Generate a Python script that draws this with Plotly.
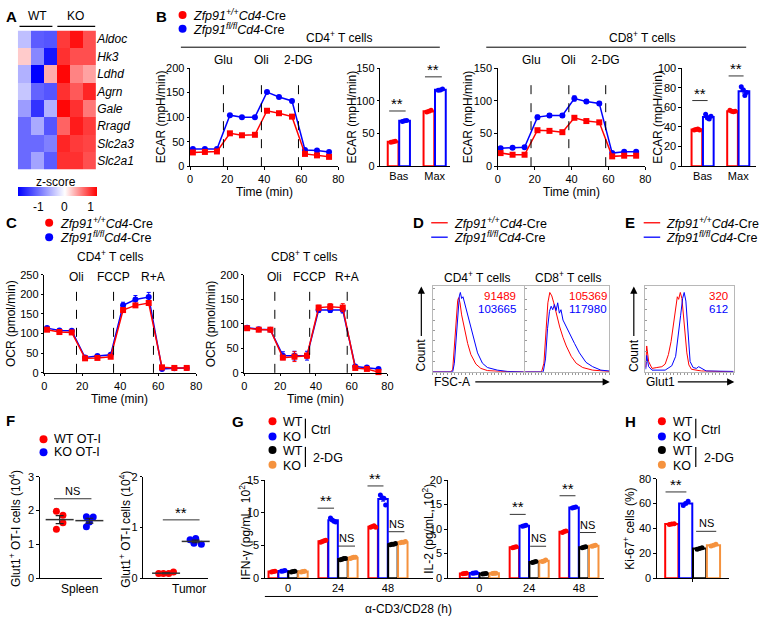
import numpy as np
import plotly.graph_objects as go

W, H = 767, 627
FONT = "Arial, 'Liberation Sans', 'DejaVu Sans', sans-serif"
FT = 11      # tick font
FA = 12      # axis title font
FL = 12.5    # legend font
RED, BLUE, BLACK, ORANGE = "#ff0000", "#0000ff", "#000000", "#f5923e"

# ======================= DATA =======================
# A: heatmap (z-scores)
genes = ["Aldoc", "Hk3", "Ldhd", "Agrn", "Gale", "Rragd", "Slc2a3", "Slc2a1"]
samples = ["WT1", "WT2", "WT3", "KO1", "KO2", "KO3"]
heat_z = [
    [-0.45, -1.15, -1.2, 0.95, 1.15, 0.85],
    [0.25, -0.85, -1.65, 1.0, 0.85, 0.85],
    [-0.55, -1.8, 0.4, 1.2, 0.6, 0.45],
    [-0.4, -1.1, -1.2, 1.0, 0.8, 1.05],
    [-0.7, -1.45, -0.55, 1.2, 1.0, 0.65],
    [-1.05, -0.6, -1.2, 0.75, 1.1, 0.95],
    [-1.05, -1.05, -0.9, 1.05, 0.95, 0.9],
    [-1.05, -0.65, -1.15, 1.0, 1.0, 0.85],
]

# B: ECAR time course
time_min = [1.5, 8, 14.5, 21.5, 28, 35, 41.5, 48, 55, 62, 68.5, 75]
ecar_inject = [18, 38.5, 58.5]
ecar_inject_lbl = ["Glu", "Oli", "2-DG"]
ecar_cd4_wt = [28, 29, 30, 67, 63, 64, 113, 108, 101, 25, 22, 19]
ecar_cd4_ko = [35, 35, 35, 104, 100, 100, 151, 141, 133, 33, 32, 29]
ecar_cd4_wt_err = [2, 2, 2, 3, 2, 2, 3, 2, 2, 2, 2, 2]
ecar_cd4_ko_err = [2, 2, 2, 2, 2, 2, 3, 2, 2, 2, 2, 2]
ecar_cd8_wt = [20, 17.5, 17.5, 55, 54, 52, 74, 69, 67, 15, 16, 16]
ecar_cd8_ko = [27.5, 28, 29, 75, 77.5, 77.5, 103.5, 99, 96, 20, 22, 22]
ecar_cd8_wt_err = [2, 1.5, 1.5, 2, 2, 1.5, 2, 2, 2, 1.5, 1.5, 1.5]
ecar_cd8_ko_err = [2, 2, 2, 3, 3, 3, 4, 3, 3, 2, 2, 2]
# B: ECAR bars (basal / max)
bar_cats = ["Bas", "Max"]
ecar_cd4_bar_wt = [[36.5, 37.5, 38.0], [83.0, 84.0, 85.5]]
ecar_cd4_bar_ko = [[68.5, 69.5, 70.0], [116.0, 116.5, 118.0]]
ecar_cd8_bar_wt = [[37.0, 37.5, 38.0, 37.0], [57.0, 56.0, 55.5, 56.0]]
ecar_cd8_bar_ko = [[53.0, 49.0, 48.0, 51.0], [81.0, 78.0, 72.0, 75.0]]

# C: OCR time course
ocr_inject = [17, 36.5, 57.5]
ocr_inject_lbl = ["Oli", "FCCP", "R+A"]
ocr_cd4_wt = [110, 104, 103, 37, 38, 41, 160, 172, 178, 14, 12.5, 12.5]
ocr_cd4_ko = [114, 108, 107.5, 39, 43, 46, 172, 187, 193, 10, 12, 12.5]
ocr_cd4_wt_err = [3, 3, 3, 3, 3, 3, 4, 4, 4, 2, 2, 2]
ocr_cd4_ko_err = [4, 3, 3, 3, 3, 3, 8, 10, 12, 3, 2, 2]
ocr_cd8_wt = [91, 88, 88, 31, 33, 35, 133, 135, 133, 10, 8, 1.5]
ocr_cd8_ko = [92, 89, 88, 35, 35, 35, 128, 128, 128, 13, 11, 8]
ocr_cd8_wt_err = [3, 3, 3, 4, 10, 5, 5, 6, 8, 2, 2, 2]
ocr_cd8_ko_err = [3, 3, 3, 8, 9, 9, 5, 5, 6, 2, 2, 2]

# D: FSC-A histograms (% of box height)
d_cd4_x_wt = [0, 20, 21.8, 23.6, 25.5, 27.3, 28.4, 29.8, 31.6, 34.5, 38.2, 41.8, 47.3, 52.7, 60, 74.5, 100]
d_cd4_y_wt = [0, 0, 3, 30, 62, 83, 86, 80, 66, 50, 33, 20, 9, 4, 1.5, 0.5, 0]
d_cd4_x_ko = [0, 21.8, 23.6, 25.5, 27.3, 29.1, 30.2, 31.6, 33.1, 35.3, 38.2, 41.8, 45.5, 49.1, 54.5, 60, 70.9, 81.8, 100]
d_cd4_y_ko = [0, 0, 10, 40, 72, 88, 92, 85, 87, 78, 66, 50, 36, 22, 10, 5, 2, 0.5, 0]
d_cd8_x_wt = [0, 19.6, 22.4, 24.7, 27.1, 29.4, 31.8, 34.1, 37.3, 41.2, 45.1, 49, 54.9, 60.8, 68.6, 80.4, 100]
d_cd8_y_wt = [0, 0, 10, 45, 80, 92, 88, 80, 66, 52, 40, 30, 18, 10, 5, 2, 0.5]
d_cd8_x_ko = [0, 21.6, 24.3, 26.7, 29, 31, 32.9, 34.9, 36.9, 38.8, 40.8, 42.7, 45.1, 49, 52.9, 58.8, 64.7, 72.5, 80.4, 90.2, 100]
d_cd8_y_ko = [0, 0, 15, 50, 70, 76, 72, 78, 71, 80, 68, 72, 60, 52, 44, 33, 22, 11, 6, 2, 1]
d_mfi_cd4 = ["91489", "103665"]
d_mfi_cd8 = ["105369", "117980"]

# E: Glut1 histograms
e_x_wt = [0.4, 1.5, 3.7, 7.5, 13, 18.7, 22.4, 26.1, 29.1, 32.1, 34.3, 36.2, 37.7, 39.6, 41.4, 43.3, 45.1, 47, 49.3, 52.2, 63.4, 100]
e_y_wt = [5, 30, 12, 4, 5, 6, 9, 20, 35, 58, 78, 87, 84, 92, 85, 65, 42, 22, 8, 3, 1, 0]
e_x_ko = [0.4, 1.5, 3.7, 7.5, 22.4, 29.9, 34.3, 37.3, 39.9, 42.2, 44, 45.9, 47.4, 48.9, 50.7, 54.1, 57.8, 60.4, 63.4, 69, 100]
e_y_ko = [3, 19, 6, 2, 2, 7, 18, 40, 65, 85, 92, 82, 58, 32, 12, 5, 4, 6, 4, 1, 0.5]
e_mfi = ["320", "612"]

# F: Glut1+ OT-I cells (10^4)
spleen_wt = [1.98, 1.86, 1.64, 1.45]
spleen_ko = [1.82, 1.81, 1.66, 1.52]
tumor_wt = [0.09, 0.09, 0.09, 0.12]
tumor_ko = [0.76, 0.78, 0.69, 0.67]

# G: cytokines, per time point (0, 24, 48 h)
g_times = ["0", "24", "48"]
ifng_wt_ctrl = [[0.95, 1.0, 1.05], [5.5, 5.6, 5.7, 5.8], [7.8, 7.9, 8.0, 7.8]]
ifng_ko_ctrl = [[1.05, 1.1, 1.15], [9.2, 8.9, 8.7, 8.6], [12.7, 12.3, 12.2, 11.2]]
ifng_wt_2dg = [[0.95, 1.0, 1.05], [2.8, 2.9, 3.0, 3.0], [5.1, 5.2, 5.2, 5.3]]
ifng_ko_2dg = [[0.95, 1.0, 1.05], [3.0, 3.1, 3.2, 3.2], [5.4, 5.5, 5.5, 5.6]]
il2_wt_ctrl = [[0.9, 0.95, 1.0], [6.2, 6.3, 6.4], [9.3, 9.5, 9.6]]
il2_ko_ctrl = [[1.0, 1.05, 1.1], [10.6, 10.7, 10.8], [14.3, 14.4, 14.5]]
il2_wt_2dg = [[0.85, 0.9, 0.95], [3.2, 3.3, 3.4], [6.2, 6.3, 6.4]]
il2_ko_2dg = [[0.95, 1.0, 1.0], [3.4, 3.5, 3.7], [6.5, 6.6, 6.7]]

# H: Ki-67+ cells (%)
ki67_wt_ctrl = [43.2, 43.5, 43.8]
ki67_ko_ctrl = [58.5, 60.0, 62.0]
ki67_wt_2dg = [23.2, 23.8, 24.5]
ki67_ko_2dg = [25.8, 26.5, 27.3]

# ======================= HELPERS =======================
fig = go.Figure()
LAY, ANN, SHP = {}, [], []
cnt = [0]


def fx(px):
    return px / W


def fy(py):
    return 1 - py / H


def base_axis():
    return dict(showgrid=False, zeroline=False, showline=True, linecolor="black", linewidth=1,
                ticks="outside", ticklen=2.5, tickwidth=1, tickcolor="black",
                tickfont=dict(size=FT, color="black", family=FONT), fixedrange=True)


def axes(x0, x1, ytop, ybot, xr, yr, xkw=None, ykw=None):
    cnt[0] += 1
    s = "" if cnt[0] == 1 else str(cnt[0])
    xa = base_axis()
    xa.update(domain=[fx(x0), fx(x1)], range=xr, anchor="y" + s)
    ya = base_axis()
    ya.update(domain=[fy(ybot), fy(ytop)], range=yr, anchor="x" + s)
    xa.update(xkw or {})
    ya.update(ykw or {})
    LAY["xaxis" + s] = xa
    LAY["yaxis" + s] = ya
    return "x" + s, "y" + s


def txt(px, py, s, size=FA, xa="center", ya="middle", ang=0, color="black"):
    ANN.append(dict(x=fx(px), y=fy(py), xref="paper", yref="paper", text=s, showarrow=False,
                    xanchor=xa, yanchor=ya, textangle=ang,
                    font=dict(size=size, color=color, family=FONT)))


def hline(px0, px1, py, color="black", w=1):
    SHP.append(dict(type="line", xref="paper", yref="paper", x0=fx(px0), x1=fx(px1),
                    y0=fy(py), y1=fy(py), line=dict(color=color, width=w)))


def vline_paper(px, py0, py1, color="black", w=1.2):
    SHP.append(dict(type="line", xref="paper", yref="paper", x0=fx(px), x1=fx(px),
                    y0=fy(py0), y1=fy(py1), line=dict(color=color, width=w)))


def dot(px, py, color, r=4):
    SHP.append(dict(type="circle", xref="paper", yref="paper", xsizemode="pixel", ysizemode="pixel",
                    xanchor=fx(px), yanchor=fy(py), x0=-r, x1=r, y0=-r, y1=r,
                    fillcolor=color, line=dict(width=0)))


def letter(px, py, s):
    txt(px, py, "<b>%s</b>" % s, size=15, xa="left")


def sig(xa, ya, x0, x1, y, label):
    SHP.append(dict(type="line", xref=xa, yref=ya, x0=x0, x1=x1, y0=y, y1=y,
                    line=dict(color="#333333", width=1)))
    size = 15 if label == "**" else FT
    ANN.append(dict(x=(x0 + x1) / 2, y=y, xref=xa, yref=ya, text=label, showarrow=False,
                    xanchor="center", yanchor="bottom", yshift=(-3 if label == "**" else 0),
                    font=dict(size=size, color="black", family=FONT)))


def inject_lines(xa, times, labels, py_top, py_bot, py_lbl):
    for t, lb in zip(times, labels):
        SHP.append(dict(type="line", xref=xa, yref="paper", x0=t, x1=t, y0=fy(py_bot), y1=fy(py_top),
                        line=dict(color="black", width=1, dash="dash")))
        ANN.append(dict(x=t, y=fy(py_lbl), xref=xa, yref="paper", text=lb, showarrow=False,
                        xanchor="center", yanchor="middle", font=dict(size=FA, color="black", family=FONT)))


def time_series(xa, ya, y, err, color, symbol):
    fig.add_trace(go.Scatter(x=time_min, y=y, xaxis=xa, yaxis=ya, mode="lines+markers",
                             line=dict(color=color, width=1.5),
                             marker=dict(color=color, size=6, symbol=symbol),
                             error_y=dict(type="data", array=err, color=color, thickness=1, width=2),
                             cliponaxis=False, showlegend=False))


def bars(xa, ya, center_list, reps, color, off, width, dot_sp):
    means = [float(np.mean(r)) for r in reps]
    sems = [float(np.std(r, ddof=1) / np.sqrt(len(r))) for r in reps]
    xs = [c + off for c in center_list]
    fig.add_trace(go.Bar(x=xs, y=means, width=width, xaxis=xa, yaxis=ya,
                         marker=dict(color="white", line=dict(color=color, width=2)),
                         error_y=dict(type="data", array=sems, color=color, thickness=1, width=2),
                         showlegend=False))
    dx, dy = [], []
    for x, r in zip(xs, reps):
        n = len(r)
        for k, v in enumerate(r):
            dx.append(x + (k - (n - 1) / 2) * dot_sp)
            dy.append(v)
    fig.add_trace(go.Scatter(x=dx, y=dy, xaxis=xa, yaxis=ya, mode="markers",
                             marker=dict(color=color, size=5), cliponaxis=False, showlegend=False))


# ======================= PANEL A =======================
letter(1, 11, "A")
txt(35, 10, "WT")
txt(73, 10, "KO")
hline(16.7, 50, 20.7, w=1.3)
hline(55, 93.3, 20.7, w=1.3)
xh, yh = axes(15, 94.3, 25, 166.7, [-0.5, 5.5], [7.5, -0.5],
              xkw=dict(visible=False),
              ykw=dict(showline=False, ticks="", side="right", tickvals=list(range(len(genes))),
                       ticktext=["<i>%s</i>" % g for g in genes], tickfont=dict(size=FA, family=FONT, color="black")))
fig.add_trace(go.Heatmap(z=heat_z, x=list(range(len(samples))), y=list(range(len(genes))),
                         xaxis=xh, yaxis=yh, zmin=-1.8, zmax=1.23,
                         colorscale=[[0, "#0000ff"], [0.594, "#ffffff"], [1, "#ff0000"]],
                         colorbar=dict(orientation="h", x=fx(54.65), xanchor="center", y=fy(184.5), yanchor="top",
                                       len=79.3, lenmode="pixels", thickness=8.5, thicknessmode="pixels",
                                       outlinewidth=0, xpad=0, ypad=0, tickvals=[-1, 0, 1], ticktext=["-1", "0", "1"],
                                       ticks="", tickfont=dict(size=FA, family=FONT, color="black")),
                         hoverinfo="skip"))
txt(53.3, 179.5, "z-score")

# ======================= PANEL B =======================
letter(153, 11, "B")
dot(181.7, 9.3, RED)
txt(190.5, 9.3, "<i>Zfp91<sup>+/+</sup>Cd4</i>-Cre", size=FL, xa="left")
dot(181.7, 23.3, BLUE)
txt(190.5, 23.3, "<i>Zfp91<sup>fl/fl</sup>Cd4</i>-Cre", size=FL, xa="left")

txt(340, 32, "CD4<sup>+</sup> T cells")
hline(180, 442, 42)
txt(646.7, 32, "CD8<sup>+</sup> T cells")
hline(489, 752, 42)

# CD4 ECAR time
xa, ya = axes(189.3, 339.3, 63.3, 163.3, [0, 80], [0, 200], xkw=dict(dtick=20), ykw=dict(dtick=50))
inject_lines(xa, ecar_inject, ecar_inject_lbl, 77, 163.3, 55)
time_series(xa, ya, ecar_cd4_ko, ecar_cd4_ko_err, BLUE, "circle")
time_series(xa, ya, ecar_cd4_wt, ecar_cd4_wt_err, RED, "square")
txt(159.3, 113, "ECAR (mpH/min)", ang=-90)
txt(264.3, 190, "Time (min)")

# CD4 ECAR bars
xa, ya = axes(381.7, 452, 63.3, 163.3, [-0.52, 1.42], [0, 150],
              xkw=dict(tickvals=[0, 1], ticktext=bar_cats, ticks=""), ykw=dict(dtick=50))
bars(xa, ya, [0, 1], ecar_cd4_bar_wt, RED, -0.16, 0.3, 0.06)
bars(xa, ya, [0, 1], ecar_cd4_bar_ko, BLUE, 0.16, 0.3, 0.06)
sig(xa, ya, -0.27, 0.19, 84.4, "**")
sig(xa, ya, 0.73, 1.2, 136.6, "**")
txt(352.7, 113, "ECAR (mpH/min)", ang=-90)

# CD8 ECAR time
xa, ya = axes(500.7, 650, 63.3, 163.3, [0, 80], [0, 150], xkw=dict(dtick=20), ykw=dict(dtick=50))
inject_lines(xa, ecar_inject, ecar_inject_lbl, 77, 163.3, 55)
time_series(xa, ya, ecar_cd8_ko, ecar_cd8_ko_err, BLUE, "circle")
time_series(xa, ya, ecar_cd8_wt, ecar_cd8_wt_err, RED, "square")
txt(470, 113, "ECAR (mpH/min)", ang=-90)
txt(575.3, 190, "Time (min)")

# CD8 ECAR bars
xa, ya = axes(687, 762, 63.3, 163.3, [-0.58, 1.5], [0, 100],
              xkw=dict(tickvals=[0, 1], ticktext=bar_cats, ticks=""), ykw=dict(dtick=20))
bars(xa, ya, [0, 1], ecar_cd8_bar_wt, RED, -0.16, 0.3, 0.05)
bars(xa, ya, [0, 1], ecar_cd8_bar_ko, BLUE, 0.16, 0.3, 0.05)
sig(xa, ya, -0.29, 0.14, 66.9, "**")
sig(xa, ya, 0.73, 1.15, 92, "**")
txt(662.7, 113, "ECAR (mpH/min)", ang=-90)

# ======================= PANEL C =======================
letter(1, 221, "C")
dot(46.7, 221, RED)
txt(55.5, 221, "<i>Zfp91<sup>+/+</sup>Cd4</i>-Cre", size=FL, xa="left")
dot(46.7, 235.7, BLUE)
txt(55.5, 235.7, "<i>Zfp91<sup>fl/fl</sup>Cd4</i>-Cre", size=FL, xa="left")

xa, ya = axes(41.7, 195.5, 274, 374, [0, 80], [0, 250], xkw=dict(dtick=20), ykw=dict(dtick=50))
inject_lines(xa, ocr_inject, ocr_inject_lbl, 287, 374, 276)
time_series(xa, ya, ocr_cd4_ko, ocr_cd4_ko_err, BLUE, "circle")
time_series(xa, ya, ocr_cd4_wt, ocr_cd4_wt_err, RED, "square")
txt(109, 255, "CD4<sup>+</sup> T cells")
txt(8.3, 324, "OCR (pmol/min)", ang=-90)
txt(118.3, 401, "Time (min)")

xa, ya = axes(244.3, 389, 274, 374, [0, 80], [0, 200], xkw=dict(dtick=20), ykw=dict(dtick=50))
inject_lines(xa, ocr_inject, ocr_inject_lbl, 287, 374, 276)
time_series(xa, ya, ocr_cd8_ko, ocr_cd8_ko_err, BLUE, "circle")
time_series(xa, ya, ocr_cd8_wt, ocr_cd8_wt_err, RED, "square")
txt(305, 255, "CD8<sup>+</sup> T cells")
txt(210, 324, "OCR (pmol/min)", ang=-90)
txt(316.7, 401, "Time (min)")


# ======================= PANEL D / E =======================
def hist_axes(x0, x1):
    return axes(x0, x1, 285, 373, [0, 100], [0, 100],
                xkw=dict(mirror=True, linecolor="#b8b8b8", ticks="outside", ticklen=2.5, tickcolor="#999999",
                         dtick=4, showticklabels=False),
                ykw=dict(mirror=True, linecolor="#b8b8b8", ticks="inside", ticklen=2, tickcolor="#999999",
                         dtick=12, showticklabels=False))


def hist_line(xa, ya, x, y, color):
    fig.add_trace(go.Scatter(x=x, y=y, xaxis=xa, yaxis=ya, mode="lines",
                             line=dict(color=color, width=1), showlegend=False))


letter(413, 221, "D")
hline(433.3, 450, 221, RED, 1.3)
txt(454, 221, "<i>Zfp91<sup>+/+</sup>Cd4</i>-Cre", size=FL, xa="left")
hline(433.3, 450, 235.7, BLUE, 1.3)
txt(454, 235.7, "<i>Zfp91<sup>fl/fl</sup>Cd4</i>-Cre", size=FL, xa="left")

xa, ya = hist_axes(435, 527)
hist_line(xa, ya, d_cd4_x_wt, d_cd4_y_wt, RED)
hist_line(xa, ya, d_cd4_x_ko, d_cd4_y_ko, BLUE)
txt(480, 276, "CD4<sup>+</sup> T cells")
txt(521, 296, d_mfi_cd4[0], size=11.5, xa="right", color=RED)
txt(521, 309.3, d_mfi_cd4[1], size=11.5, xa="right", color=BLUE)

xa, ya = hist_axes(528.3, 613.3)
hist_line(xa, ya, d_cd8_x_wt, d_cd8_y_wt, RED)
hist_line(xa, ya, d_cd8_x_ko, d_cd8_y_ko, BLUE)
txt(572, 276, "CD8<sup>+</sup> T cells")
txt(613, 296, d_mfi_cd8[0], size=11.5, xa="right", color=RED)
txt(613, 309.3, d_mfi_cd8[1], size=11.5, xa="right", color=BLUE)

# arrows D
ANN.append(dict(x=fx(423.3), y=fy(286), xref="paper", yref="paper", text="", showarrow=True,
                ax=0, ay=51, arrowhead=2, arrowsize=1.2, arrowwidth=1.2, arrowcolor="black"))
txt(423.3, 356, "Count", ang=-90)
txt(454.5, 383.3, "FSC-A")
ANN.append(dict(x=fx(614), y=fy(383.3), xref="paper", yref="paper", text="", showarrow=True,
                ax=-136, ay=0, arrowhead=2, arrowsize=1.2, arrowwidth=1.2, arrowcolor="black"))

letter(627, 221, "E")
hline(648.3, 665, 221, RED, 1.3)
txt(669, 221, "<i>Zfp91<sup>+/+</sup>Cd4</i>-Cre", size=FL, xa="left")
hline(648.3, 665, 235.7, BLUE, 1.3)
txt(669, 235.7, "<i>Zfp91<sup>fl/fl</sup>Cd4</i>-Cre", size=FL, xa="left")

xa, ya = hist_axes(650, 739.3)
hist_line(xa, ya, e_x_wt, e_y_wt, RED)
hist_line(xa, ya, e_x_ko, e_y_ko, BLUE)
txt(736, 296, e_mfi[0], size=11.5, xa="right", color=RED)
txt(736, 309.3, e_mfi[1], size=11.5, xa="right", color=BLUE)
ANN.append(dict(x=fx(638.3), y=fy(286), xref="paper", yref="paper", text="", showarrow=True,
                ax=0, ay=51, arrowhead=2, arrowsize=1.2, arrowwidth=1.2, arrowcolor="black"))
txt(638.3, 356, "Count", ang=-90)
txt(665, 383.3, "Glut1")
ANN.append(dict(x=fx(740), y=fy(383.3), xref="paper", yref="paper", text="", showarrow=True,
                ax=-58, ay=0, arrowhead=2, arrowsize=1.2, arrowwidth=1.2, arrowcolor="black"))

# ======================= PANEL F =======================
letter(1, 423, "F")
dot(41, 441.7, RED)
txt(49.5, 441.7, "WT OT-I", size=FL, xa="left")
dot(41, 455, BLUE)
txt(49.5, 455, "KO OT-I", size=FL, xa="left")


def scatter_group(xa, ya, xc, vals, offs, color):
    fig.add_trace(go.Scatter(x=[xc + o for o in offs], y=vals, xaxis=xa, yaxis=ya, mode="markers",
                             marker=dict(color=color, size=7), cliponaxis=False, showlegend=False))
    m = float(np.mean(vals))
    se = float(np.std(vals, ddof=1) / np.sqrt(len(vals)))
    fig.add_trace(go.Scatter(x=[xc], y=[m], xaxis=xa, yaxis=ya, mode="markers",
                             marker=dict(symbol="line-ew-open", size=20, color="#333333",
                                         line=dict(width=1.5, color="#333333")),
                             error_y=dict(type="data", array=[se], color="#222222", thickness=1.2, width=4),
                             cliponaxis=False, showlegend=False))


xa, ya = axes(37.3, 100, 480, 583.3, [-0.667, 1.42], [0, 3],
              xkw=dict(ticks="", showticklabels=False), ykw=dict(dtick=1))
scatter_group(xa, ya, 0, spleen_wt, [-0.11, 0.11, 0.11, -0.11], RED)
scatter_group(xa, ya, 1, spleen_ko, [-0.1, 0.13, 0.0, -0.1], BLUE)
sig(xa, ya, -0.19, 1.07, 2.35, "NS")
txt(77.7, 594.3, "Spleen")
txt(12.3, 533, "Glut1<sup>+</sup> OT-I cells (10<sup>4</sup>)", ang=-90)

xa, ya = axes(142, 207, 480, 583.3, [-0.767, 1.4], [0, 2],
              xkw=dict(ticks="", showticklabels=False), ykw=dict(dtick=1))
scatter_group(xa, ya, 0, tumor_wt, [-0.25, -0.09, 0.09, 0.25], RED)
scatter_group(xa, ya, 1, tumor_ko, [-0.19, 0.0, -0.06, 0.19], BLUE)
sig(xa, ya, -0.11, 1.13, 1.15, "**")
txt(188, 594.3, "Tumor")
txt(123.3, 533, "Glut1<sup>+</sup> OT-I cells (10<sup>4</sup>)", ang=-90)


# ======================= PANEL G =======================
def group_legend(x_dot, x_bar):
    dot(x_dot, 423.3, RED)
    txt(x_dot + 9, 424.5, "WT", size=FL, xa="left")
    dot(x_dot, 439, BLUE)
    txt(x_dot + 9, 439.5, "KO", size=FL, xa="left")
    vline_paper(x_bar, 420.7, 440.7)
    txt(x_bar + 3.5, 432.3, "Ctrl", size=FL, xa="left")
    dot(x_dot, 452.7, BLACK)
    txt(x_dot + 9, 453.5, "WT", size=FL, xa="left")
    dot(x_dot, 467.7, ORANGE)
    txt(x_dot + 9, 468.5, "KO", size=FL, xa="left")
    vline_paper(x_bar, 449.5, 470)
    txt(x_bar + 6, 460.5, "2-DG", size=FL, xa="left")


letter(230, 424, "G")
group_legend(272.7, 306)

BW, BO = 0.19, 0.198
g_colors = [RED, BLUE, BLACK, ORANGE]

xa, ya = axes(265, 435, 483.3, 583.3, [-0.465, 2.9], [0, 15],
              xkw=dict(tickvals=[0, 1, 2], ticktext=g_times, ticks=""), ykw=dict(dtick=5))
for i, (reps, c) in enumerate(zip([ifng_wt_ctrl, ifng_ko_ctrl, ifng_wt_2dg, ifng_ko_2dg], g_colors)):
    bars(xa, ya, [0, 1, 2], reps, c, (i - 1.5) * BO, BW, 0.035)
sig(xa, ya, 1 - 0.41, 1 - 0.08, 10.7, "**")
sig(xa, ya, 1 + 0.0, 1 + 0.34, 4.9, "NS")
sig(xa, ya, 2 - 0.41, 2 - 0.09, 14.1, "**")
sig(xa, ya, 2 + 0.01, 2 + 0.33, 7.1, "NS")
txt(245, 535, "IFN-γ (pg/mL, 10<sup>2</sup>)", ang=-90)

xa, ya = axes(450, 608, 483.3, 583.3, [-0.636, 2.5], [0, 20],
              xkw=dict(tickvals=[0, 1, 2], ticktext=g_times, ticks=""), ykw=dict(dtick=5))
for i, (reps, c) in enumerate(zip([il2_wt_ctrl, il2_ko_ctrl, il2_wt_2dg, il2_ko_2dg], g_colors)):
    bars(xa, ya, [0, 1, 2], reps, c, (i - 1.5) * BO, BW, 0.035)
sig(xa, ya, 1 - 0.39, 1 - 0.07, 13, "**")
sig(xa, ya, 1 + 0.02, 1 + 0.34, 6.5, "NS")
sig(xa, ya, 2 - 0.39, 2 - 0.07, 16.8, "**")
sig(xa, ya, 2 + 0.02, 2 + 0.34, 9.3, "NS")
txt(430, 533, "IL-2 (pg/mL, 10<sup>2</sup>)", ang=-90)

hline(265, 602, 602)
txt(410, 615, "α-CD3/CD28 (h)")

# ======================= PANEL H =======================
letter(627, 424, "H")
group_legend(666.7, 701)
xa, ya = axes(661.7, 735, 482, 583.3, [-0.514, 0.529], [0, 80],
              xkw=dict(tickvals=[0], ticktext=[""]), ykw=dict(dtick=20))
for i, (r, c) in enumerate(zip([ki67_wt_ctrl, ki67_ko_ctrl, ki67_wt_2dg, ki67_ko_2dg], g_colors)):
    bars(xa, ya, [0], [r], c, (i - 1.5) * 0.2, 0.19, 0.035)
sig(xa, ya, -0.39, -0.09, 69.4, "**")
sig(xa, ya, 0.05, 0.34, 37.7, "NS")
txt(633.3, 533, "Ki-67<sup>+</sup> cells (%)", ang=-90)

# ======================= LAYOUT =======================
fig.update_layout(width=W, height=H, margin=dict(l=0, r=0, t=0, b=0), autosize=False,
                  paper_bgcolor="white", plot_bgcolor="rgba(0,0,0,0)", showlegend=False,
                  barmode="overlay", font=dict(family=FONT, size=FT, color="black"),
                  annotations=ANN, shapes=SHP, **LAY)
fig.write_html("out.html", config={"displayModeBar": False, "staticPlot": True},
               post_script="document.body.style.margin='0';document.body.style.overflow='hidden';")
